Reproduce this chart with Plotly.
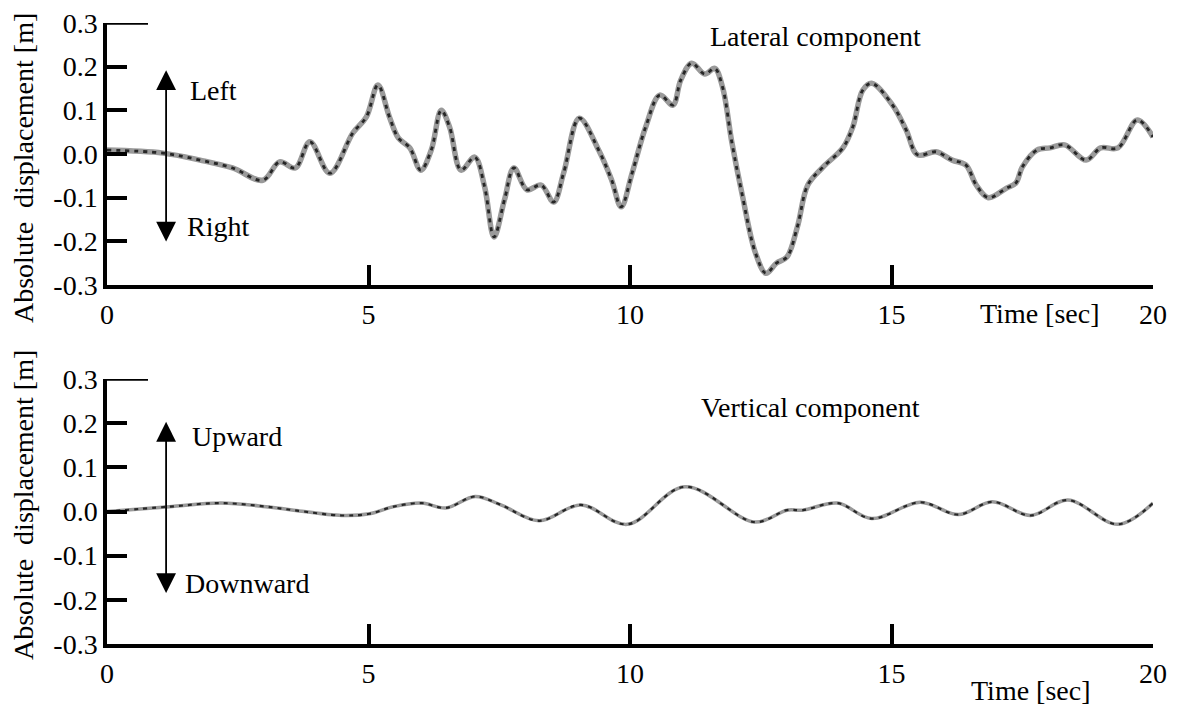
import plotly.graph_objects as go

# Lateral component: time [s] and absolute displacement [m]
lat_t = [0, 1.07, 1.78, 2.4, 2.98, 3.3, 3.6, 3.88, 4.26, 4.7, 4.96, 5.18, 5.4, 5.57,
         5.79, 6.0, 6.2, 6.39, 6.55, 6.77, 7.03, 7.22, 7.4, 7.6, 7.78, 8.03, 8.3,
         8.54, 8.73, 9.03, 9.4, 9.65, 9.83, 10.04, 10.3, 10.57, 10.82, 10.97, 11.18,
         11.43, 11.62, 11.77, 11.95, 12.14, 12.4, 12.6, 12.8, 13.0, 13.2, 13.4, 13.69,
         14.07, 14.26, 14.45, 14.62, 15.02, 15.28, 15.5, 15.85, 16.16, 16.42, 16.62,
         16.85, 17.2, 17.38, 17.5, 17.78, 18.03, 18.31, 18.72, 19.0, 19.33, 19.7, 20.0]
lat_v = [0.009, 0.002, -0.014, -0.032, -0.06, -0.018, -0.032, 0.028, -0.044, 0.048,
         0.085, 0.158, 0.085, 0.037, 0.014, -0.037, 0.009, 0.1, 0.062, -0.037, -0.007,
         -0.075, -0.19, -0.105, -0.032, -0.082, -0.071, -0.11, -0.044, 0.082, 0.009,
         -0.06, -0.121, -0.044, 0.062, 0.135, 0.112, 0.169, 0.208, 0.183, 0.196, 0.153,
         0.025, -0.09, -0.227, -0.273, -0.25, -0.236, -0.167, -0.071, -0.03, 0.014,
         0.062, 0.146, 0.162, 0.112, 0.055, -0.002, 0.005, -0.014, -0.025, -0.071,
         -0.1, -0.078, -0.066, -0.03, 0.009, 0.014, 0.021, -0.014, 0.014, 0.014,
         0.078, 0.039]

# Vertical component: time [s] and absolute displacement [m]
vert_t = [0, 1.19, 2.18, 3.04, 3.57, 4.49, 5.02, 5.48, 6.02, 6.48, 7.04, 7.53, 8.26,
          9.06, 9.95, 11.05, 12.39, 13.0, 13.3, 13.97, 14.62, 15.55, 16.28, 16.93,
          17.66, 18.37, 19.33, 20.0]
vert_v = [0, 0.011, 0.019, 0.011, 0.003, -0.009, -0.005, 0.011, 0.019, 0.008, 0.034,
          0.015, -0.021, 0.015, -0.029, 0.056, -0.024, 0.003, 0.003, 0.019, -0.016,
          0.021, -0.007, 0.022, -0.009, 0.026, -0.029, 0.019]

x_ticks = [0, 5, 10, 15, 20]
x_tick_labels = ["0", "5", "10", "15", "20"]
y_ticks = [-0.3, -0.2, -0.1, 0.0, 0.1, 0.2, 0.3]
y_tick_labels = ["-0.3", "-0.2", "-0.1", "0.0", "0.1", "0.2", "0.3"]

W, H = 1185, 706
FONT = "Liberation Serif"
FS = 28

fig = go.Figure()


def add_trace(t, v, xa, ya, halo_w, dash_w):
    # grey halo with dark dashes on top
    fig.add_trace(go.Scatter(x=t, y=v, xaxis=xa, yaxis=ya, mode="lines",
                             line=dict(color="#9a9a9a", width=halo_w, shape="spline", smoothing=1.0),
                             hoverinfo="skip", showlegend=False))
    fig.add_trace(go.Scatter(x=t, y=v, xaxis=xa, yaxis=ya, mode="lines",
                             line=dict(color="#262626", width=dash_w, shape="spline", smoothing=1.0,
                                       dash="4px,5px"),
                             showlegend=False))


add_trace(lat_t, lat_v, "x", "y", 5.5, 2.8)
add_trace(vert_t, vert_v, "x2", "y2", 3.5, 2.2)

x_dom = [107 / W, 1153 / W]
top_dom = [(H - 285) / H, (H - 23) / H]
bot_dom = [(H - 644) / H, (H - 379) / H]

xcommon = dict(range=[0, 20], tickvals=x_ticks, ticktext=x_tick_labels, ticks="inside",
               ticklen=20, tickwidth=3.5, tickcolor="black", showline=True, linewidth=3.5,
               linecolor="black", showgrid=False, zeroline=False, domain=x_dom,
               automargin=False,
               tickfont=dict(family=FONT, size=FS, color="black"), ticklabelstandoff=2)
ycommon = dict(range=[-0.3, 0.3], tickvals=y_ticks, ticktext=y_tick_labels, ticks="inside",
               ticklen=20, tickwidth=3.5, tickcolor="black", showline=True, linewidth=3.5,
               linecolor="black", showgrid=False, zeroline=False, automargin=False,
               tickfont=dict(family=FONT, size=FS, color="black"), ticklabelstandoff=0)

fig.update_layout(
    width=W, height=H, margin=dict(l=0, r=0, t=0, b=0, autoexpand=False),
    paper_bgcolor="white", plot_bgcolor="white",
    xaxis=dict(**xcommon, anchor="y"),
    yaxis=dict(**ycommon, domain=top_dom, anchor="x"),
    xaxis2=dict(**xcommon, anchor="y2"),
    yaxis2=dict(**ycommon, domain=bot_dom, anchor="x2"),
)

# longer tick at the top of each vertical axis
for dref, yref in [("x domain", "y"), ("x2 domain", "y2")]:
    fig.add_shape(type="line", xref=dref, yref=yref,
                  x0=0, x1=41 / 1046, y0=0.3, y1=0.3, line=dict(color="black", width=3.5))

annotations = []
txt = dict(font=dict(family=FONT, size=FS, color="black"), showarrow=False)

for xr, yr, yt, yb in [("x", "y", 0.192, -0.204), ("x2", "y2", 0.203, -0.188)]:
    # double-headed direction arrow
    annotations.append(dict(x=1.13, y=yt, xref=xr, yref=yr, ax=1.13, ay=yb, axref=xr, ayref=yr,
                            text="", showarrow=True, arrowhead=2, arrowside="end+start",
                            arrowsize=2.2, arrowwidth=1.8, arrowcolor="black"))


def label(x, y, text, xref="paper", yref="paper", xanchor="center", angle=0):
    annotations.append(dict(x=x, y=y, xref=xref, yref=yref, text=text, xanchor=xanchor,
                            yanchor="middle", textangle=angle, **txt))


label(1.55, 0.146, "Left", "x", "y", "left")
label(1.49, -0.167, "Right", "x", "y", "left")
label(1.58, 0.169, "Upward", "x2", "y2", "left")
label(1.45, -0.162, "Downward", "x2", "y2", "left")
label(815 / W, 1 - 37 / H, "Lateral component")
label(810 / W, 1 - 407 / H, "Vertical component")
label(1040 / W, 1 - 313 / H, "Time [sec]")
label(1031 / W, 1 - 690 / H, "Time [sec]")
label(23 / W, 1 - 168 / H, "Absolute  displacement [m]", angle=-90)
label(23 / W, 1 - 505 / H, "Absolute  displacement [m]", angle=-90)

fig.update_layout(annotations=annotations)

fig.write_html("out.html")
